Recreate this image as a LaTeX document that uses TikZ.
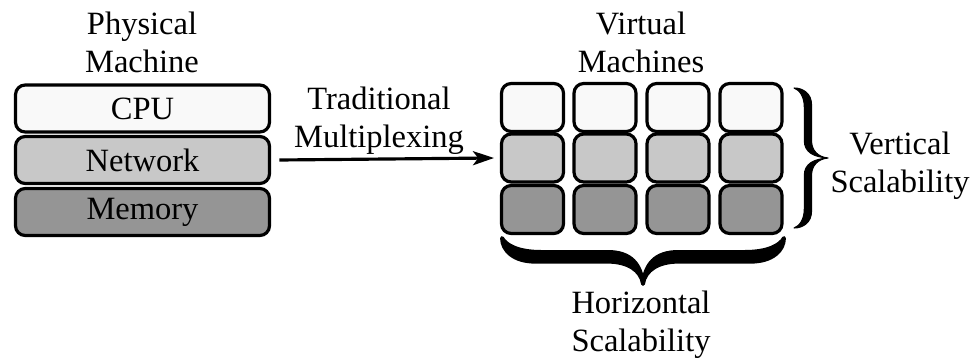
\documentclass[tikz,border=0pt]{standalone}
\usepackage{fontspec}
\setmainfont{Liberation Serif}
\usetikzlibrary{arrows.meta}
\definecolor{cpuc}{RGB}{249,249,249}
\definecolor{netc}{RGB}{200,200,200}
\definecolor{memc}{RGB}{149,149,149}
\tikzset{
  lay/.style={draw=black, line width=1.8pt, rounded corners=5.5pt, inner sep=0pt, outer sep=0pt},
  bigbox/.style={lay, minimum width=5.08cm, minimum height=0.94cm},
  vmbox/.style={lay, minimum width=1.24cm, minimum height=0.96cm},
  lbl/.style={align=center, font=\fontsize{18.5}{21.6}\selectfont, inner sep=0pt},
  bracepic/.pic={
    \filldraw[black, line join=round] (-1,-1) .. controls (-0.727,-1) and (-0.485,-0.917) .. (-0.485,-0.764)
      -- (-0.485,-0.25) .. controls (-0.485,-0.111) and (-0.303,-0.014) .. (0,0)
      .. controls (-0.303,0.014) and (-0.485,0.111) .. (-0.485,0.25)
      -- (-0.485,0.764) .. controls (-0.485,0.917) and (-0.727,1) .. (-1,1)
      .. controls (-0.848,0.972) and (-0.697,0.889) .. (-0.697,0.722)
      -- (-0.697,0.25) .. controls (-0.697,0.083) and (-0.424,0.014) .. (0,0)
      .. controls (-0.424,-0.014) and (-0.697,-0.083) .. (-0.697,-0.25)
      -- (-0.697,-0.722) .. controls (-0.697,-0.889) and (-0.848,-0.972) .. (-1,-1) -- cycle;
  },
}
\begin{document}
\begin{tikzpicture}[x=0.02cm, y=-0.02cm]
\useasboundingbox (0,0) rectangle (973,358);
% physical machine
\node[bigbox, fill=cpuc] (cpu) at (142.5,108.5) {};
\node[bigbox, fill=netc] (net) at (142.5,160) {};
\node[bigbox, fill=memc] (mem) at (142.5,212) {};
\node[lbl] at (cpu) {CPU};
\node[lbl] at (net) {Network};
\node[lbl] at (mem) {Memory};
\node[lbl] (pm) at (142,42) {Physical\\Machine};
% virtual machines
\foreach \i/\x in {1/532.5, 2/605, 3/678, 4/751} {
  \node[vmbox, fill=cpuc] (v1\i) at (\x,107.5) {};
  \node[vmbox, fill=netc] (v2\i) at (\x,158) {};
  \node[vmbox, fill=memc] (v3\i) at (\x,209.5) {};
}
\node[lbl] (vm) at (641,42) {Virtual\\Machines};
% arrow
\draw[line width=1.8pt, -{Stealth[length=12pt,width=8pt,inset=3pt]}] ([xshift=0.2cm]net.east) -- ([xshift=-0.15cm]v21.west);
\node[lbl] (tm) at (379,121) {Traditional\\Multiplexing};
% braces
\pic[shift={(828,158)}, xscale=34, yscale=70, line width=0.6pt] {bracepic};
\pic[shift={(643,284)}, rotate=-90, xscale=46, yscale=141, line width=2.2pt] {bracepic};
\node[lbl] (vs) at (900,166) {Vertical\\Scalability};
\node[lbl] (hs) at (641,325) {Horizontal\\Scalability};
\end{tikzpicture}
\end{document}
